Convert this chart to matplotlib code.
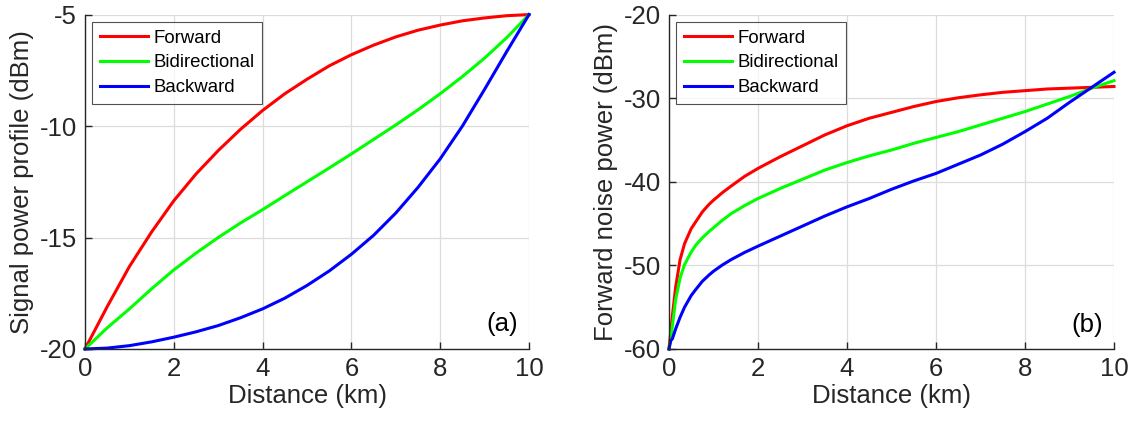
import numpy as np
import matplotlib
matplotlib.use('Agg')
import matplotlib.pyplot as plt

plt.rcParams['font.family'] = ['Liberation Sans', 'DejaVu Sans']
plt.rcParams['axes.unicode_minus'] = False

labels = ['Forward', 'Bidirectional', 'Backward']
colors = ['#ff0000', '#00ff00', '#0000ff']

# (a) signal power profile, dBm
dist_a = [0, 0.5, 1, 1.5, 2, 2.5, 3, 3.5, 4, 4.5, 5, 5.5, 6, 6.5, 7, 7.5, 8, 8.5, 9, 9.5, 10]
sig_fwd = [-20, -18.1, -16.3, -14.75, -13.35, -12.15, -11.1, -10.15, -9.3, -8.55, -7.9,
           -7.3, -6.8, -6.37, -6.0, -5.7, -5.47, -5.28, -5.15, -5.05, -5.0]
sig_bi = [-20, -19.05, -18.2, -17.3, -16.45, -15.7, -15.0, -14.35, -13.75, -13.12, -12.5,
          -11.88, -11.25, -10.6, -9.95, -9.27, -8.55, -7.78, -6.95, -6.03, -5.0]
sig_bwd = [-20, -19.96, -19.85, -19.68, -19.47, -19.23, -18.95, -18.6, -18.2, -17.72, -17.15,
           -16.5, -15.75, -14.9, -13.9, -12.75, -11.47, -10.0, -8.35, -6.65, -5.0]

# (b) forward noise power, dBm
dist_b = [0, 0.04, 0.075, 0.15, 0.25, 0.35, 0.5, 0.6, 0.75, 0.9, 1, 1.2, 1.4, 1.7, 2, 2.5,
          3, 3.5, 4, 4.5, 5, 5.5, 6, 6.5, 7, 7.5, 8, 8.5, 9, 9.5, 10]
noise_fwd = [-60, -58.0, -56.1, -52.6, -49.3, -47.4, -45.6, -44.8, -43.6, -42.7, -42.2, -41.3,
             -40.5, -39.35, -38.4, -37.0, -35.7, -34.4, -33.3, -32.4, -31.7, -31.0, -30.4,
             -29.95, -29.6, -29.3, -29.1, -28.9, -28.8, -28.7, -28.6]
noise_bi = [-60, -58.8, -57.3, -54.1, -51.5, -49.9, -48.4, -47.6, -46.7, -45.95, -45.5, -44.6,
            -43.8, -42.85, -42.0, -40.8, -39.7, -38.6, -37.7, -36.9, -36.2, -35.4, -34.7,
            -34.0, -33.2, -32.4, -31.6, -30.7, -29.8, -28.8, -27.9]
noise_bwd = [-60, -59.0, -58.8, -57.6, -56.2, -55.0, -53.6, -52.9, -51.9, -51.15, -50.7,
             -49.95, -49.3, -48.45, -47.7, -46.5, -45.3, -44.1, -43.0, -42.0, -40.9, -39.9,
             -39.0, -37.9, -36.8, -35.5, -34.0, -32.4, -30.5, -28.7, -26.9]

fs = 18.5
axc = '#262626'

fig = plt.figure(figsize=(11.35, 4.24), dpi=100)
ax1 = fig.add_axes([0.0749, 0.1769, 0.3912, 0.7887])
ax2 = fig.add_axes([0.5894, 0.1769, 0.3921, 0.7887])


def style(ax, ylab, yticks, letter, ytxt):
    ax.set_xlim(0, 10)
    ax.set_ylim(yticks[0], yticks[-1])
    ax.set_xticks(range(0, 11, 2))
    ax.set_yticks(yticks)
    ax.grid(True, color='#dcdcdc', linewidth=0.9)
    ax.set_axisbelow(True)
    for s in ['top', 'right']:
        ax.spines[s].set_visible(False)
    for s in ['left', 'bottom']:
        ax.spines[s].set_color(axc)
        ax.spines[s].set_linewidth(1.0)
    ax.tick_params(direction='in', length=5, width=1.0, color=axc,
                   labelsize=fs, labelcolor=axc, pad=6)
    ax.set_xlabel('Distance (km)', fontsize=fs, color=axc, labelpad=2)
    ax.set_ylabel(ylab, fontsize=fs, color=axc, labelpad=4)
    ax.text(9.75, ytxt, letter, fontsize=fs, ha='right', va='center', color='k')
    leg = ax.legend(loc='upper left', fontsize=13.4, frameon=True, fancybox=False,
                    edgecolor=axc, handlelength=2.6, handletextpad=0.3,
                    labelspacing=0.42, borderpad=0.4, borderaxespad=0.4)
    leg.get_frame().set_linewidth(0.8)


for y, lab, c in zip([sig_fwd, sig_bi, sig_bwd], labels, colors):
    ax1.plot(dist_a, y, color=c, lw=2.2, label=lab, clip_on=False)
for y, lab, c in zip([noise_fwd, noise_bi, noise_bwd], labels, colors):
    ax2.plot(dist_b, y, color=c, lw=2.2, label=lab, clip_on=False)

style(ax1, 'Signal power profile (dBm)', [-20, -15, -10, -5], '(a)', -18.9)
style(ax2, 'Forward noise power (dBm)', [-60, -50, -40, -30, -20], '(b)', -57.1)

fig.savefig('out.png', dpi=100)
